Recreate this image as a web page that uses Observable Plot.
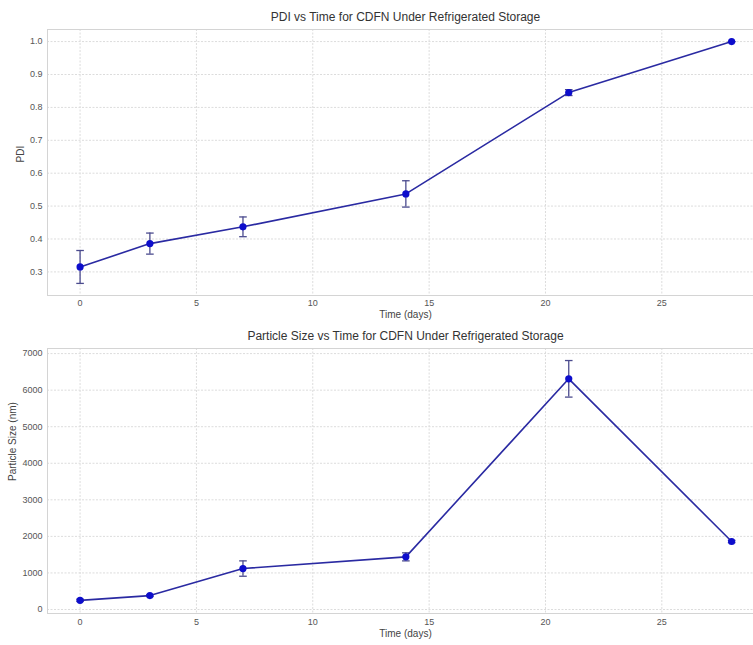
<!DOCTYPE html>
<html>
<head>
<meta charset="utf-8">
<script src="https://cdn.jsdelivr.net/npm/d3@7"></script>
<script src="https://cdn.jsdelivr.net/npm/@observablehq/plot@0.6"></script>
<style>
  html, body { margin: 0; padding: 0; background: #fff; }
  #charts svg { display: block; font-family: "Liberation Sans", Arial, sans-serif; }
</style>
</head>
<body>
<div id="charts"></div>
<script>
// Storage time points (days)
const days = [0, 3, 7, 14, 21, 28];

// Polydispersity index: mean and standard deviation
const pdiMean = [0.315, 0.386, 0.437, 0.537, 0.845, 1.0];
const pdiErr  = [0.050, 0.032, 0.030, 0.040, 0.009, 0.0];

// Particle size (nm): mean and standard deviation
const sizeMean = [250, 380, 1120, 1440, 6310, 1860];
const sizeErr  = [30, 25, 210, 110, 500, 30];

// Tick values
const xTicks = [0, 5, 10, 15, 20, 25];
const pdiTicks = [0.3, 0.4, 0.5, 0.6, 0.7, 0.8, 0.9, 1.0];
const sizeTicks = [0, 1000, 2000, 3000, 4000, 5000, 6000, 7000];

const titles = {
  pdi: "PDI vs Time for CDFN Under Refrigerated Storage",
  size: "Particle Size vs Time for CDFN Under Refrigerated Storage"
};

const lineColor = "#2a2aa2";
const dotColor = "#0d0dcc";
const errColor = "#4b4b8e";
const gridColor = "#dcdcdc";
const frameColor = "#d4d4d4";

// horizontal cap used at both ends of each error bar
const capSymbol = {
  draw(context, size) {
    context.moveTo(-3.8, 0);
    context.lineTo(3.8, 0);
  }
};

function rows(means, errs) {
  return days.map((t, i) => ({t, m: means[i], lo: means[i] - errs[i], hi: means[i] + errs[i]}));
}

// Pad a numeric extent by 5% on each side
function padded(lo, hi) {
  const p = (hi - lo) * 0.05;
  return [lo - p, hi + p];
}

function chart({data, title, yLabel, yTicks, yFormat, height, marginTop, marginBottom, yLabelDx, xLabelDy, xTickPadding}) {
  const yDomain = padded(d3.min(data, d => d.lo), d3.max(data, d => d.hi));
  const xDomain = padded(0, 28);
  const left = 47;
  const pxPerDay = 23.27;
  return Plot.plot({
    width: 753,
    height,
    marginLeft: left,
    marginRight: 0,
    marginTop,
    marginBottom,
    style: {background: "#fff", color: "#555", fontSize: "9px"},
    x: {domain: xDomain, range: [left, left + (xDomain[1] - xDomain[0]) * pxPerDay]},
    y: {domain: yDomain},
    marks: [
      Plot.gridX(xTicks, {stroke: gridColor, strokeOpacity: 1, strokeDasharray: "2,1.5"}),
      Plot.gridY(yTicks, {stroke: gridColor, strokeOpacity: 1, strokeDasharray: "2,1.5"}),
      Plot.frame({anchor: "left", stroke: frameColor}),
      Plot.frame({anchor: "top", stroke: frameColor}),
      Plot.frame({anchor: "bottom", stroke: frameColor}),
      Plot.axisX(xTicks, {tickSize: 0, tickPadding: xTickPadding, label: null, fill: "#555", fontSize: 9}),
      Plot.axisY(yTicks, {tickSize: 0, tickPadding: 5, label: null, tickFormat: yFormat, fill: "#555", fontSize: 9}),
      Plot.ruleX(data, {x: "t", y1: "lo", y2: "hi", stroke: errColor, strokeWidth: 1.3}),
      Plot.dot(data, {x: "t", y: "lo", symbol: capSymbol, stroke: errColor, strokeWidth: 1.3}),
      Plot.dot(data, {x: "t", y: "hi", symbol: capSymbol, stroke: errColor, strokeWidth: 1.3}),
      Plot.line(data, {x: "t", y: "m", stroke: lineColor, strokeWidth: 1.6}),
      Plot.dot(data, {x: "t", y: "m", r: 3.6, fill: dotColor, stroke: "none"}),
      Plot.text([title], {frameAnchor: "top", dx: 5, dy: -9, fontSize: 12, fill: "#333", lineAnchor: "bottom"}),
      Plot.text(["Time (days)"], {frameAnchor: "bottom", dx: 5, dy: xLabelDy, fontSize: 10, fill: "#444"}),
      Plot.text([yLabel], {frameAnchor: "left", dx: yLabelDx, rotate: -90, fontSize: 10, fill: "#444"})
    ]
  });
}

const root = document.getElementById("charts");

root.appendChild(chart({
  data: rows(pdiMean, pdiErr),
  title: titles.pdi,
  yLabel: "PDI",
  yTicks: pdiTicks,
  yFormat: d3.format(".1f"),
  height: 322,
  marginTop: 29,
  marginBottom: 27,
  yLabelDx: -27,
  xLabelDy: 22,
  xTickPadding: 4
}));

root.appendChild(chart({
  data: rows(sizeMean, sizeErr),
  title: titles.size,
  yLabel: "Particle Size (nm)",
  yTicks: sizeTicks,
  yFormat: d3.format("d"),
  height: 323,
  marginTop: 26,
  marginBottom: 32,
  yLabelDx: -35,
  xLabelDy: 23,
  xTickPadding: 5
}));
</script>
</body>
</html>
